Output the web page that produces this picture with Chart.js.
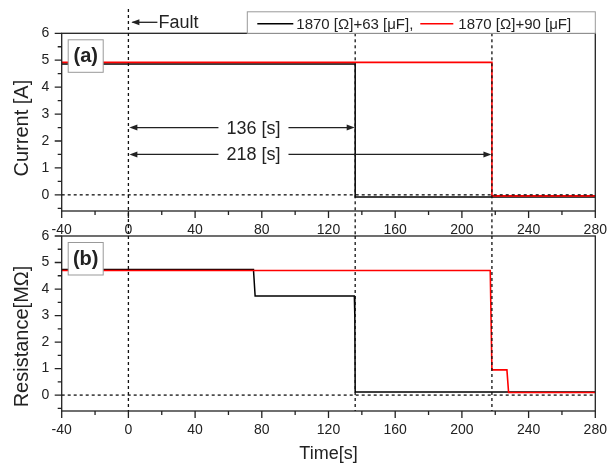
<!DOCTYPE html>
<html>
<head>
<meta charset="utf-8">
<script src="https://cdn.jsdelivr.net/npm/chart.js@4.4.1/dist/chart.umd.min.js"></script>
<style>
  body { margin: 0; background: #fff; }
  #wrap { position: relative; width: 609px; height: 465px; }
  canvas { position: absolute; left: 0; }
  #currentChart { top: 0; }
  #resistChart { top: 222px; }
</style>
</head>
<body>
<div id="wrap">
  <canvas id="currentChart" width="609" height="240"></canvas>
  <canvas id="resistChart" width="609" height="243"></canvas>
</div>
<script>
const seriesNames = ['1870 [Ω]+63 [μF],', '1870 [Ω]+90 [μF]'];
const seriesColors = ['#000000', '#ff0000'];

// (a) current, step traces
const currentTime63 = [-40, 136, 136, 280];
const current63 = [4.86, 4.86, -0.08, -0.08];
const currentTime90 = [-40, 218, 218, 280];
const current90 = [4.92, 4.92, -0.04, -0.04];

// (b) resistance
const resistTime63 = [-40, 75, 76, 135.5, 135.8, 136, 280];
const resist63 = [4.74, 4.74, 3.74, 3.74, 2.9, 0.12, 0.12];
const resistTime90 = [-40, 217, 218, 227, 228, 280];
const resist90 = [4.70, 4.70, 0.95, 0.95, 0.1, 0.1];

const timeTicks = [-40, 0, 40, 80, 120, 160, 200, 240, 280];
const valueTicks = [0, 1, 2, 3, 4, 5, 6];
const faultTime = 0;
const tripTimes = [136, 218];
const tripLevels = [2.5, 1.5];

const FONT = 'Liberation Sans';
const INK = '#222';

function toPoints(xs, ys) {
  return xs.map((t, i) => ({ x: t, y: ys[i] }));
}

function makeDatasets(t63, v63, t90, v90) {
  return [
    { label: seriesNames[0], data: toPoints(t63, v63), borderColor: seriesColors[0], borderWidth: 1.5, pointRadius: 0, tension: 0, order: 1 },
    { label: seriesNames[1], data: toPoints(t90, v90), borderColor: seriesColors[1], borderWidth: 1.6, pointRadius: 0, tension: 0, order: 0 }
  ];
}

function dotted(ctx, x0, y0, x1, y1) {
  ctx.save();
  ctx.strokeStyle = '#111';
  ctx.lineWidth = 1.3;
  ctx.setLineDash([3, 3]);
  ctx.beginPath();
  ctx.moveTo(x0, y0);
  ctx.lineTo(x1, y1);
  ctx.stroke();
  ctx.restore();
}

function arrowHead(ctx, x, y, dir) {
  ctx.beginPath();
  ctx.moveTo(x, y);
  ctx.lineTo(x - dir * 8, y - 3);
  ctx.lineTo(x - dir * 8, y + 3);
  ctx.closePath();
  ctx.fill();
}

// frame, outward ticks, zero line, y title and the (a)/(b) tag
function drawFrame(chart, tag, yTitle, titleShift) {
  const { ctx, chartArea: a, scales: { x, y } } = chart;
  ctx.save();
  ctx.strokeStyle = INK;
  ctx.lineWidth = 1.3;
  ctx.strokeRect(a.left, a.top, a.right - a.left, a.bottom - a.top);
  ctx.beginPath();
  for (let t = -40; t <= 280; t += 20) {
    const px = x.getPixelForValue(t);
    ctx.moveTo(px, a.bottom);
    ctx.lineTo(px, a.bottom + (t % 40 === 0 ? 7 : 4));
  }
  for (let v = -0.5; v <= 6; v += 0.5) {
    const py = y.getPixelForValue(v);
    ctx.moveTo(a.left, py);
    ctx.lineTo(a.left - (Number.isInteger(v) ? 7 : 4), py);
  }
  ctx.stroke();

  ctx.translate(22, (a.top + a.bottom) / 2 + titleShift);
  ctx.rotate(-Math.PI / 2);
  ctx.fillStyle = INK;
  ctx.font = '20px "' + FONT + '"';
  ctx.textAlign = 'center';
  ctx.textBaseline = 'middle';
  ctx.fillText(yTitle, 0, 0);
  ctx.restore();

  const y0 = y.getPixelForValue(0);
  dotted(ctx, a.left, y0, a.right, y0);

  ctx.save();
  ctx.fillStyle = '#fff';
  ctx.strokeStyle = '#999';
  ctx.lineWidth = 1;
  ctx.fillRect(a.left + 6.5, a.top + 6.5, 35, 32.5);
  ctx.strokeRect(a.left + 6.5, a.top + 6.5, 35, 32.5);
  ctx.fillStyle = INK;
  ctx.font = 'bold 20px "' + FONT + '"';
  ctx.textAlign = 'center';
  ctx.textBaseline = 'middle';
  ctx.fillText(tag, a.left + 24, a.top + 23.5);
  ctx.restore();
}

const currentDecor = {
  id: 'currentDecor',
  afterDraw(chart) {
    const { ctx, chartArea: a, scales: { x, y } } = chart;
    drawFrame(chart, '(a)', 'Current [A]', 6);

    // fault and trip guides run on into the lower panel
    const fx = x.getPixelForValue(faultTime);
    dotted(ctx, fx, 9, fx, chart.height - 4);
    tripTimes.forEach(t => {
      const px = x.getPixelForValue(t);
      dotted(ctx, px, a.top, px, chart.height - 4);
    });

    ctx.save();
    ctx.fillStyle = INK;
    ctx.strokeStyle = INK;
    ctx.lineWidth = 1.3;
    ctx.font = '18px "' + FONT + '"';
    ctx.textBaseline = 'middle';

    // "Fault" pointer
    const fy = a.top - 11;
    ctx.beginPath();
    ctx.moveTo(fx + 4, fy);
    ctx.lineTo(fx + 29, fy);
    ctx.stroke();
    arrowHead(ctx, fx + 3, fy, -1);
    ctx.textAlign = 'left';
    ctx.fillText('Fault', fx + 30, fy + 1);

    // elapsed-time spans
    ctx.textAlign = 'center';
    tripTimes.forEach((t, i) => {
      const x0 = fx + 1;
      const x1 = x.getPixelForValue(t) - 0.5;
      const py = y.getPixelForValue(tripLevels[i]);
      const cx = x.getPixelForValue(75);
      const text = t + ' [s]';
      const w = ctx.measureText(text).width;
      ctx.fillText(text, cx, py + 1);
      ctx.beginPath();
      ctx.moveTo(x0 + 4, py);
      ctx.lineTo(cx - w / 2 - 8, py);
      ctx.moveTo(cx + w / 2 + 8, py);
      ctx.lineTo(x1 - 4, py);
      ctx.stroke();
      arrowHead(ctx, x0, py, -1);
      arrowHead(ctx, x1, py, 1);
    });

    // legend box sitting on the top edge
    const left = a.right - 348;
    const top = a.top - 21.5;
    const ly = a.top - 9.5;
    ctx.fillStyle = '#fff';
    ctx.fillRect(left, top, a.right - left, a.top - top);
    ctx.strokeStyle = '#999';
    ctx.lineWidth = 1;
    ctx.strokeRect(left, top, a.right - left, a.top - top);
    ctx.font = '15px "' + FONT + '"';
    ctx.textAlign = 'left';
    let cx = left + 10;
    seriesNames.forEach((name, i) => {
      const len = i === 0 ? 36 : 33;
      ctx.strokeStyle = seriesColors[i];
      ctx.lineWidth = 1.5;
      ctx.beginPath();
      ctx.moveTo(cx, ly);
      ctx.lineTo(cx + len, ly);
      ctx.stroke();
      cx += len + (i === 0 ? 3 : 5);
      ctx.fillStyle = INK;
      ctx.fillText(name, cx, ly + 1);
      cx += ctx.measureText(name).width + 7;
    });
    ctx.restore();
  }
};

const resistDecor = {
  id: 'resistDecor',
  afterDraw(chart) {
    const { ctx, chartArea: a, scales: { x } } = chart;
    drawFrame(chart, '(b)', 'Resistance[MΩ]', 13);
    [faultTime, ...tripTimes].forEach(t => {
      const px = x.getPixelForValue(t);
      dotted(ctx, px, a.top, px, a.bottom);
    });
  }
};

function axes(xHeight, withXTitle) {
  return {
    x: {
      type: 'linear',
      min: -40,
      max: 280,
      afterBuildTicks: s => { s.ticks = timeTicks.map(v => ({ value: v })); },
      afterFit: s => { s.height = xHeight; s.paddingLeft = 0; s.paddingRight = 0; },
      grid: { display: false, drawTicks: false },
      border: { display: false },
      ticks: { padding: 11, maxRotation: 0, autoSkip: false, color: INK, font: { family: FONT, size: 14 } },
      title: { display: withXTitle, text: 'Time[s]', color: INK, font: { family: FONT, size: 18 }, padding: { top: 0, bottom: 0 } }
    },
    y: {
      min: -0.6,
      max: 6,
      afterBuildTicks: s => { s.ticks = valueTicks.map(v => ({ value: v })); },
      afterFit: s => { s.width = 61.7; s.paddingTop = 0; s.paddingBottom = 0; },
      grid: { display: false, drawTicks: false },
      border: { display: false },
      ticks: { padding: 12.4, color: INK, font: { family: FONT, size: 14 } }
    }
  };
}

function baseOptions(padTop, xHeight, withXTitle) {
  return {
    responsive: false,
    devicePixelRatio: 1,
    animation: false,
    layout: { padding: { top: padTop, right: 13.7, left: 0, bottom: 0 } },
    plugins: { legend: { display: false }, tooltip: { enabled: false } },
    scales: axes(xHeight, withXTitle)
  };
}

new Chart(document.getElementById('currentChart'), {
  type: 'line',
  data: { datasets: makeDatasets(currentTime63, current63, currentTime90, current90) },
  options: baseOptions(33.3, 29, false),
  plugins: [currentDecor]
});

new Chart(document.getElementById('resistChart'), {
  type: 'line',
  data: { datasets: makeDatasets(resistTime63, resist63, resistTime90, resist90) },
  options: baseOptions(14, 54, true),
  plugins: [resistDecor]
});
</script>
</body>
</html>
